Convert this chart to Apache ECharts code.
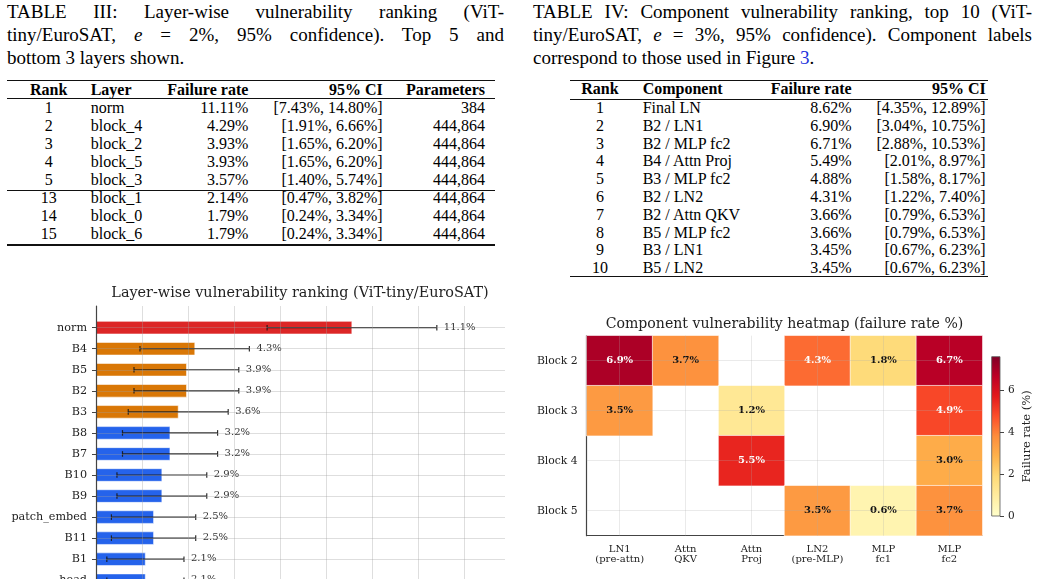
<!DOCTYPE html>
<html>
<head>
<meta charset="utf-8">
<title>Vulnerability ranking</title>
<script src="https://cdn.jsdelivr.net/npm/echarts@6/dist/echarts.min.js"></script>
<style>
    body { margin: 0; width: 1041px; height: 579px; overflow: hidden; position: relative; background: #fff;
           font-family: 'Liberation Serif', 'Times New Roman', serif; color: #000; }
    .cap { position: absolute; font-size: 19px; line-height: 23px; }
    .cap div { white-space: nowrap; }
    .cap .j { text-align: justify; text-align-last: justify; white-space: normal; }
    .cell { position: absolute; white-space: nowrap; }
    .rule { position: absolute; background: #111; }
    #bars { position: absolute; left: 0; top: 280px; width: 520px; height: 400px; }
    #heat { position: absolute; left: 530px; top: 300px; width: 511px; height: 279px; }
</style>
</head>
<body>

<div class="cap" style="left:7px; top:0; width:497px;">
    <div class="j">TABLE III: Layer-wise vulnerability ranking (ViT-</div>
    <div class="j">tiny/EuroSAT, <i>e</i> = 2%, 95% confidence). Top 5 and</div>
    <div>bottom 3 layers shown.</div>
</div>

<div class="cap" style="left:533px; top:0; width:499px;">
    <div class="j">TABLE IV: Component vulnerability ranking, top 10 (ViT-</div>
    <div class="j">tiny/EuroSAT, <i>e</i> = 3%, 95% confidence). Component labels</div>
    <div>correspond to those used in Figure <span style="color:#2233dd">3</span>.</div>
</div>

<div id="bars"></div>
<div id="heat"></div>

<script>
// ------------------------------
// Data
// ------------------------------

// Table III (layer-wise ranking)
var t3Rank = ['1', '2', '3', '4', '5', '13', '14', '15'];
var t3Layer = ['norm', 'block_4', 'block_2', 'block_5', 'block_3', 'block_1', 'block_0', 'block_6'];
var t3Rate = ['11.11%', '4.29%', '3.93%', '3.93%', '3.57%', '2.14%', '1.79%', '1.79%'];
var t3CI = ['[7.43%, 14.80%]', '[1.91%, 6.66%]', '[1.65%, 6.20%]', '[1.65%, 6.20%]', '[1.40%, 5.74%]',
            '[0.47%, 3.82%]', '[0.24%, 3.34%]', '[0.24%, 3.34%]'];
var t3Params = ['384', '444,864', '444,864', '444,864', '444,864', '444,864', '444,864', '444,864'];

// Table IV (component ranking)
var t4Rank = ['1', '2', '3', '4', '5', '6', '7', '8', '9', '10'];
var t4Comp = ['Final LN', 'B2 / LN1', 'B2 / MLP fc2', 'B4 / Attn Proj', 'B3 / MLP fc2', 'B2 / LN2',
              'B2 / Attn QKV', 'B5 / MLP fc2', 'B3 / LN1', 'B5 / LN2'];
var t4Rate = ['8.62%', '6.90%', '6.71%', '5.49%', '4.88%', '4.31%', '3.66%', '3.66%', '3.45%', '3.45%'];
var t4CI = ['[4.35%, 12.89%]', '[3.04%, 10.75%]', '[2.88%, 10.53%]', '[2.01%, 8.97%]', '[1.58%, 8.17%]',
            '[1.22%, 7.40%]', '[0.79%, 6.53%]', '[0.79%, 6.53%]', '[0.67%, 6.23%]', '[0.67%, 6.23%]'];

// Layer-wise bar chart
var layerNames = ['norm', 'B4', 'B5', 'B2', 'B3', 'B8', 'B7', 'B10', 'B9', 'patch_embed', 'B11', 'B1', 'head', 'B0', 'B6'];
var failRate = [11.11, 4.29, 3.93, 3.93, 3.57, 3.21, 3.21, 2.86, 2.86, 2.50, 2.50, 2.14, 2.14, 1.79, 1.79];
var ciLow = [7.43, 1.91, 1.65, 1.65, 1.40, 1.15, 1.15, 0.91, 0.91, 0.67, 0.67, 0.47, 0.47, 0.24, 0.24];
var ciHigh = [14.80, 6.66, 6.20, 6.20, 5.74, 5.28, 5.28, 4.81, 4.81, 4.33, 4.33, 3.82, 3.82, 3.34, 3.34];
var rateTicks = [0, 2, 4, 6, 8, 10, 12, 14, 16];

// Component heatmap
var components = ['LN1\n(pre-attn)', 'Attn\nQKV', 'Attn\nProj', 'LN2\n(pre-MLP)', 'MLP\nfc1', 'MLP\nfc2'];
var blocks = ['Block 2', 'Block 3', 'Block 4', 'Block 5'];
var block2 = [6.90, 3.66, null, 4.31, 1.80, 6.71];
var block3 = [3.45, null, 1.20, null, null, 4.88];
var block4 = [null, null, 5.49, null, null, 3.00];
var block5 = [null, null, null, 3.45, 0.60, 3.66];
var colorbarTicks = [0, 2, 4, 6];


// ------------------------------
// Tables
// ------------------------------

var TABLE_FONT = 16;

function addText(txt, x, baseline, align, bold) {
    var d = document.createElement('div');
    var lh = 20;
    d.className = 'cell';
    d.style.fontSize = TABLE_FONT + 'px';
    d.style.lineHeight = lh + 'px';
    d.style.fontWeight = bold ? 'bold' : 'normal';
    d.style.top = (baseline - ((lh - 1.107 * TABLE_FONT) / 2 + 0.891 * TABLE_FONT)) + 'px';
    if (align === 'left') {
        d.style.left = x + 'px';
    } else if (align === 'right') {
        d.style.left = (x - 300) + 'px';
        d.style.width = '300px';
        d.style.textAlign = 'right';
    } else {
        d.style.left = (x - 150) + 'px';
        d.style.width = '300px';
        d.style.textAlign = 'center';
    }
    d.textContent = txt;
    document.body.appendChild(d);
}

function addRule(x1, x2, y, h) {
    var r = document.createElement('div');
    r.className = 'rule';
    r.style.left = x1 + 'px';
    r.style.width = (x2 - x1) + 'px';
    r.style.top = (y - h / 2) + 'px';
    r.style.height = h + 'px';
    document.body.appendChild(r);
}

function buildTable(cols, headers, columns, headBase, rowBase, rowStep) {
    headers.forEach(function(h, c) {
        addText(h, cols[c].x, headBase, cols[c].align, true);
    });
    columns[0].forEach(function(_, r) {
        columns.forEach(function(col, c) {
            addText(col[r], cols[c].x, rowBase + r * rowStep, cols[c].align, false);
        });
    });
}

// Table III
buildTable(
    [{x: 48.7, align: 'center'}, {x: 90.7, align: 'left'}, {x: 248.3, align: 'right'},
     {x: 382.7, align: 'right'}, {x: 485, align: 'right'}],
    ['Rank', 'Layer', 'Failure rate', '95% CI', 'Parameters'],
    [t3Rank, t3Layer, t3Rate, t3CI, t3Params],
    95.1, 113.4, 18.03
);
addRule(7, 495, 80.7, 1.4);
addRule(7, 495, 98.8, 0.9);
addRule(7, 495, 190.2, 0.9);
addRule(7, 495, 245, 1.4);

// Table IV
buildTable(
    [{x: 600, align: 'center'}, {x: 642.7, align: 'left'}, {x: 851.7, align: 'right'},
     {x: 985.7, align: 'right'}],
    ['Rank', 'Component', 'Failure rate', '95% CI'],
    [t4Rank, t4Comp, t4Rate, t4CI],
    94.6, 113.4, 17.8
);
addRule(570, 988.3, 80.7, 1.4);
addRule(570, 988.3, 99.3, 0.9);
addRule(570, 988.3, 276.7, 1.4);


// ------------------------------
// Layer-wise bar chart
// ------------------------------

var SERIF = 'DejaVu Serif';
var BAR_RED = '#dc2626', BAR_ORANGE = '#d97706', BAR_BLUE = '#2563eb';
var GRID_LINE = 'rgba(160,160,160,0.35)';

var barData = layerNames.map(function(name, i) {
    return [i, failRate[i], ciLow[i], ciHigh[i]];
});
var layerIdx = layerNames.map(function(_, i) { return i; });

function renderBar(params, api) {
    var i = api.value(0), v = api.value(1), lo = api.value(2), hi = api.value(3);
    var p0 = api.coord([0, i]), p1 = api.coord([v, i]);
    var pLo = api.coord([lo, i]), pHi = api.coord([hi, i]);
    var h = api.size([0, 0.6])[1];
    var cap = 2.8;
    var fill = i === 0 ? BAR_RED : (i < 5 ? BAR_ORANGE : BAR_BLUE);
    var err = {stroke: '#1a1a1a', lineWidth: 1.2, opacity: 0.9};
    return {
        type: 'group',
        children: [
            {type: 'rect', shape: {x: p0[0], y: p0[1] - h / 2, width: p1[0] - p0[0], height: h},
             style: {fill: fill, stroke: 'rgba(255,255,255,0.55)', lineWidth: 1}},
            {type: 'line', shape: {x1: pLo[0], y1: pLo[1], x2: pHi[0], y2: pHi[1]}, style: err},
            {type: 'line', shape: {x1: pLo[0], y1: pLo[1] - cap, x2: pLo[0], y2: pLo[1] + cap}, style: err},
            {type: 'line', shape: {x1: pHi[0], y1: pHi[1] - cap, x2: pHi[0], y2: pHi[1] + cap}, style: err},
            {type: 'text', style: {text: v.toFixed(1) + '%', x: pHi[0] + 7, y: pHi[1] - 0.5,
             verticalAlign: 'middle', align: 'left', font: '10px "DejaVu Serif"', fill: '#333'}}
        ]
    };
}

var bars = echarts.init(document.getElementById('bars'), null, {renderer: 'canvas'});
bars.setOption({
    animation: false,
    title: {
        text: 'Layer-wise vulnerability ranking (ViT-tiny/EuroSAT)',
        left: 300, top: 6, padding: 0, textAlign: 'center',
        textStyle: {fontFamily: SERIF, fontSize: 14.4, fontWeight: 'normal', color: '#222'}
    },
    grid: {left: 96, top: 26, width: 409, height: 338},
    xAxis: {
        type: 'value', min: 0, max: 17.76, z: 5,
        axisLine: {show: true, onZero: false, lineStyle: {color: '#444', width: 1.2}},
        axisTick: {customValues: rateTicks, length: 4, lineStyle: {color: '#444'}},
        axisLabel: {customValues: rateTicks, fontFamily: SERIF, fontSize: 10, color: '#222'},
        splitLine: {show: true, lineStyle: {color: GRID_LINE, width: 1}}
    },
    yAxis: {
        type: 'value', inverse: true, min: -1.03, max: 15.03, z: 5,
        axisLine: {show: true, onZero: false, lineStyle: {color: '#444', width: 1.2}},
        axisTick: {show: true, customValues: layerIdx, length: 4, lineStyle: {color: '#444'}},
        axisLabel: {
            customValues: layerIdx, margin: 9, fontFamily: SERIF, fontSize: 11.2, color: '#222',
            formatter: function(v) { return layerNames[v]; }
        },
        splitLine: {show: true, lineStyle: {color: GRID_LINE, width: 1}}
    },
    series: [{
        type: 'custom',
        renderItem: renderBar,
        encode: {x: [1, 2, 3], y: 0},
        data: barData
    }]
});


// ------------------------------
// Component heatmap
// ------------------------------

var YL_OR_RD = ['#ffffcc', '#ffeda0', '#fed976', '#feb24c', '#fd8d3c', '#fc4e2a', '#e31a1c', '#bd0026', '#800026'];
var HEAT_MAX = 7.59;

var heatData = [];
[block2, block3, block4, block5].forEach(function(row, y) {
    row.forEach(function(v, x) {
        if (v === null) return;
        heatData.push({
            value: [x, y, v],
            label: {color: v > HEAT_MAX * 0.5 ? '#fff' : '#111'}
        });
    });
});

var barStops = YL_OR_RD.map(function(c, i) {
    return {offset: i / (YL_OR_RD.length - 1), color: c};
});

var heat = echarts.init(document.getElementById('heat'), null, {renderer: 'canvas'});
heat.setOption({
    animation: false,
    title: {
        text: 'Component vulnerability heatmap (failure rate %)',
        left: 254.5, top: 17, padding: 0, textAlign: 'center',
        textStyle: {fontFamily: SERIF, fontSize: 14.1, fontWeight: 'normal', color: '#222'}
    },
    grid: [
        {left: 56.7, top: 35.7, width: 395.6, height: 200},
        {left: 461.7, top: 56.7, width: 8.3, height: 159.3, show: true,
         borderColor: '#555', borderWidth: 0.8,
         backgroundColor: new echarts.graphic.LinearGradient(0, 1, 0, 0, barStops)}
    ],
    visualMap: {
        show: false, min: 0, max: HEAT_MAX, seriesIndex: 0, dimension: 2,
        inRange: {color: YL_OR_RD}
    },
    xAxis: [
        {
            type: 'category', gridIndex: 0, data: components,
            axisLine: {onZero: false, lineStyle: {color: '#444', width: 1.2}},
            axisTick: {alignWithLabel: true, length: 4, lineStyle: {color: '#444'}},
            axisLabel: {interval: 0, margin: 8, fontFamily: SERIF, fontSize: 10, lineHeight: 10.7, color: '#222'},
            splitLine: {show: false}
        },
        {
            type: 'value', gridIndex: 0, min: -0.5, max: 5.5, z: 5, position: 'top',
            axisLine: {show: false, onZero: false}, axisLabel: {show: false},
            axisTick: {show: false, customValues: [0, 1, 2, 3, 4, 5]},
            splitLine: {show: true, lineStyle: {color: 'rgba(170,170,170,0.25)', width: 1}}
        },
        {type: 'value', gridIndex: 1, min: 0, max: 1, show: false}
    ],
    yAxis: [
        {
            type: 'category', gridIndex: 0, data: blocks, inverse: true,
            axisLine: {onZero: false, lineStyle: {color: '#444', width: 1.2}},
            axisTick: {alignWithLabel: true, length: 4, lineStyle: {color: '#444'}},
            axisLabel: {interval: 0, margin: 9, fontFamily: SERIF, fontSize: 10.8, color: '#222'},
            splitLine: {show: false}
        },
        {
            type: 'value', gridIndex: 0, min: -0.5, max: 3.5, z: 5, position: 'right',
            axisLine: {show: false, onZero: false}, axisLabel: {show: false},
            axisTick: {show: false, customValues: [0, 1, 2, 3]},
            splitLine: {show: true, lineStyle: {color: 'rgba(170,170,170,0.25)', width: 1}}
        },
        {
            type: 'value', gridIndex: 1, min: 0, max: HEAT_MAX, position: 'right',
            axisLine: {show: false, onZero: false},
            axisTick: {show: true, customValues: colorbarTicks, length: 4, lineStyle: {color: '#444'}},
            axisLabel: {customValues: colorbarTicks, margin: 8, fontFamily: SERIF, fontSize: 10.5, color: '#222'},
            splitLine: {show: false},
            name: 'Failure rate (%)', nameLocation: 'middle', nameRotate: 90, nameGap: 21,
            nameTextStyle: {fontFamily: SERIF, fontSize: 11.5, color: '#222'}
        }
    ],
    series: [{
        type: 'heatmap',
        xAxisIndex: 0, yAxisIndex: 0,
        data: heatData,
        itemStyle: {borderColor: '#fff', borderWidth: 0.6},
        label: {
            show: true, fontFamily: SERIF, fontWeight: 'bold', fontSize: 10,
            formatter: function(p) { return p.value[2].toFixed(1) + '%'; }
        }
    }]
});
</script>
</body>
</html>
